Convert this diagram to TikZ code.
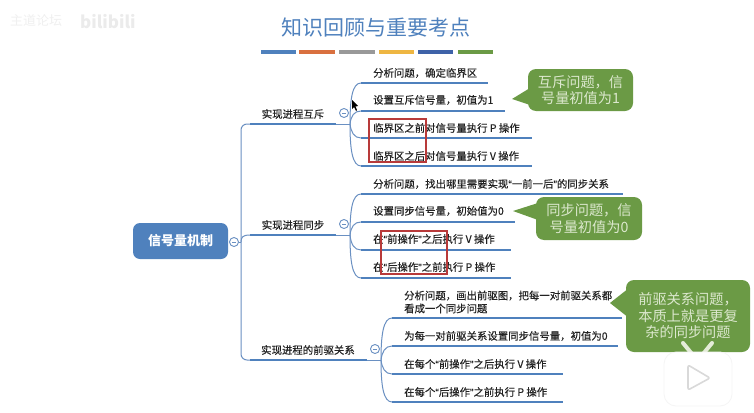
\documentclass[tikz,border=0pt]{standalone}
\usepackage{fontspec}
\setmainfont{Noto Sans CJK SC}
\newfontfamily\medf{Noto Sans CJK SC}[FakeBold=0.3]
\newfontfamily\qf{Liberation Sans}[FakeBold=0.3]
\newcommand{\lqm}{{\qf “}}
\newcommand{\rqm}{{\qf ”}}
\definecolor{mblue}{HTML}{4F81BD}
\definecolor{lblue}{HTML}{6A90C2}
\definecolor{mgreen}{HTML}{6B9A45}
\definecolor{gtext}{HTML}{DCE8CE}
\definecolor{redbox}{HTML}{B83A3A}
\definecolor{ttext}{HTML}{222222}
\definecolor{dorange}{HTML}{D9703F}
\definecolor{dgray}{HTML}{999999}
\definecolor{dyellow}{HTML}{EEB642}
\definecolor{ddblue}{HTML}{3E62A8}
\definecolor{earcol}{HTML}{E4ECD8}
\tikzset{
  conn/.style={draw=lblue,line width=1pt},
  bar/.style={draw=mblue,line width=2.8pt},
  deco/.style={line width=3.4pt},
  topic/.style={anchor=west,inner sep=0pt,font=\medf\fontsize{10.4}{13}\selectfont,text=ttext,align=left},
  mainb/.style={anchor=center,inner sep=0pt,font=\medf\fontsize{10.4}{13}\selectfont,text=ttext},
  collapse/.style={circle,draw=lblue,fill=white,line width=0.9pt,minimum size=9pt,inner sep=0pt,
    path picture={\draw[lblue,line width=0.9pt] ([xshift=-2.2pt]path picture bounding box.center) -- ([xshift=2.2pt]path picture bounding box.center);}},
  callout/.style={fill=mgreen,rounded corners=8pt,inner sep=0pt,text=gtext,align=center,font=\fontsize{14.2}{16.5}\selectfont},
  redmark/.style={draw=redbox,line width=1.1pt},
}
\begin{document}
\begin{tikzpicture}[x=1pt,y=-1pt]
\useasboundingbox (0,0) rectangle (754,412);
\fill[white] (0,0) rectangle (754,412);
% watermark
\node[anchor=west,inner sep=0pt,text=black!6,font=\fontsize{13}{15}\selectfont] (wm1) at (10,21) {主道论坛};
\node[anchor=west,inner sep=0pt,text=black!8,font=\fontsize{17}{19}\bfseries\selectfont] (wm2) at (80,22) {bilibili};
% title
\node[inner sep=0pt,text=mblue,font=\fontsize{21}{25}\selectfont] (title) at (376,28) {知识回顾与重要考点};
\coordinate (d1a) at (261,52); \coordinate (d1b) at (296,52);
\coordinate (d2a) at (299,52); \coordinate (d2b) at (335,52);
\coordinate (d3a) at (339,52); \coordinate (d3b) at (375,52);
\coordinate (d4a) at (379,52); \coordinate (d4b) at (414,52);
\coordinate (d5a) at (418,52); \coordinate (d5b) at (453,52);
\coordinate (d6a) at (458,52); \coordinate (d6b) at (493,52);
\draw[deco,draw=mblue] (d1a) -- (d1b);
\draw[deco,draw=dorange] (d2a) -- (d2b);
\draw[deco,draw=dgray] (d3a) -- (d3b);
\draw[deco,draw=dyellow] (d4a) -- (d4b);
\draw[deco,draw=ddblue] (d5a) -- (d5b);
\draw[deco,draw=mgreen] (d6a) -- (d6b);
% root
\node[fill=mblue,rounded corners=7pt,minimum width=95pt,minimum height=36pt,inner sep=0pt,text=white,font=\fontsize{13}{15}\bfseries\selectfont] (root) at (180.5,241) {信号量机制};
\node[collapse] (rootc) at (234,242) {};
% trunk
\coordinate (tk) at (241,242);
\coordinate (b1s) at (250,124); \coordinate (b1e) at (336,124);
\coordinate (b2s) at (250,235); \coordinate (b2e) at (336,235);
\coordinate (b3s) at (250,360); \coordinate (b3e) at (367,360);
\draw[conn,rounded corners=6pt] (b1s) -| (tk) |- (b3s);
\draw[conn] (rootc) -- (tk);
\draw[conn] (tk) .. controls (241,237) and (243,235) .. (b2s);
\draw[bar] (b1s) -- (b1e);
\draw[bar] (b2s) -- (b2e);
\draw[bar] (b3s) -- (b3e);
\node[mainb] (m1) at (293,114) {实现进程互斥};
\node[mainb] (m2) at (293,225) {实现进程同步};
\node[mainb] (m3) at (308,350) {实现进程的前驱关系};
% group 1
\coordinate (j1) at (350,124);
\draw[conn] (b1e) -- (j1);
\coordinate (a1) at (361,83);  \coordinate (a1e) at (488,83);
\coordinate (a2) at (361,111); \coordinate (a2e) at (505,111);
\coordinate (a3) at (361,138); \coordinate (a3e) at (532,138);
\coordinate (a4) at (361,166); \coordinate (a4e) at (532,166);
\draw[conn] (j1) .. controls (350,100) and (352,83) .. (a1);
\draw[conn] (j1) .. controls (351,116) and (354,111) .. (a2);
\draw[conn] (j1) .. controls (351,132) and (354,138) .. (a3);
\draw[conn] (j1) .. controls (350,148) and (352,166) .. (a4);
\draw[bar] (a1) -- (a1e);
\draw[bar] (a2) -- (a2e);
\draw[bar] (a3) -- (a3e);
\draw[bar] (a4) -- (a4e);
\node[topic] (ta1) at (373,73) {分析问题，确定临界区};
\node[topic] (ta2) at (373,100) {设置互斥信号量，初值为1};
\node[topic] (ta3) at (373,128) {临界区之前对信号量执行 P 操作};
\node[topic] (ta4) at (373,156) {临界区之后对信号量执行 V 操作};
\node[collapse] (c1) at (344,113) {};
% group 2
\coordinate (j2) at (350,235);
\draw[conn] (b2e) -- (j2);
\coordinate (s1) at (361,194); \coordinate (s1e) at (623,194);
\coordinate (s2) at (361,222); \coordinate (s2e) at (515,222);
\coordinate (s3) at (361,250); \coordinate (s3e) at (511,250);
\coordinate (s4) at (361,278); \coordinate (s4e) at (511,278);
\draw[conn] (j2) .. controls (350,211) and (352,194) .. (s1);
\draw[conn] (j2) .. controls (351,227) and (354,222) .. (s2);
\draw[conn] (j2) .. controls (351,244) and (354,250) .. (s3);
\draw[conn] (j2) .. controls (350,260) and (352,278) .. (s4);
\draw[bar] (s1) -- (s1e);
\draw[bar] (s2) -- (s2e);
\draw[bar] (s3) -- (s3e);
\draw[bar] (s4) -- (s4e);
\node[topic] (ts1) at (373,184) {分析问题，找出哪里需要实现\lqm 一前一后\rqm 的同步关系};
\node[topic] (ts2) at (373,211) {设置同步信号量，初始值为0};
\node[topic] (ts3) at (373,239) {在\lqm 前操作\rqm 之后执行 V 操作};
\node[topic] (ts4) at (373,267) {在\lqm 后操作\rqm 之前执行 P 操作};
\node[collapse] (c2) at (344,224) {};
% group 3
\coordinate (j3) at (381,360);
\draw[conn] (b3e) -- (j3);
\coordinate (p1) at (392,318); \coordinate (p1e) at (622,318);
\coordinate (p2) at (392,346); \coordinate (p2e) at (618,346);
\coordinate (p3) at (392,374); \coordinate (p3e) at (563,374);
\coordinate (p4) at (392,402); \coordinate (p4e) at (563,402);
\draw[conn] (j3) .. controls (381,336) and (383,318) .. (p1);
\draw[conn] (j3) .. controls (382,352) and (385,346) .. (p2);
\draw[conn] (j3) .. controls (382,368) and (385,374) .. (p3);
\draw[conn] (j3) .. controls (381,384) and (383,402) .. (p4);
\draw[bar] (p1) -- (p1e);
\draw[bar] (p2) -- (p2e);
\draw[bar] (p3) -- (p3e);
\draw[bar] (p4) -- (p4e);
\node[topic] (tp1) at (404,302) {分析问题，画出前驱图，把每一对前驱关系都\\看成一个同步问题};
\node[topic] (tp2) at (404,336) {为每一对前驱关系设置同步信号量，初值为0};
\node[topic] (tp3) at (404,364) {在每个\lqm 前操作\rqm 之后执行 V 操作};
\node[topic] (tp4) at (404,392) {在每个\lqm 后操作\rqm 之前执行 P 操作};
\node[collapse] (c3) at (375,349) {};
% red boxes
\coordinate (r1a) at (369,119); \coordinate (r1b) at (426,162);
\coordinate (r2a) at (381,231); \coordinate (r2b) at (447,274);
\draw[redmark] (r1a) rectangle (r1b);
\draw[redmark] (r2a) rectangle (r2b);
% callouts
\coordinate (tip1) at (512,99);
\coordinate (tip2) at (513,211);
\coordinate (tip3) at (610,303);
\fill[mgreen] (tip1) -- (530,88) -- (530,105) -- cycle;
\fill[mgreen] (tip2) -- (538,203) -- (538,220) -- cycle;
\fill[mgreen] (tip3) -- (629,288) -- (629,318) -- cycle;
\node[callout,minimum width=105pt,minimum height=42pt] (cb1) at (580.5,90) {互斥问题，信\\号量初值为1};
\node[callout,minimum width=106pt,minimum height=43pt] (cb2) at (589,218.5) {同步问题，信\\号量初值为0};
\node[callout,minimum width=124pt,minimum height=72pt] (cb3) at (688,316) {前驱关系问题，\\本质上就是更复\\杂的同步问题};
% cursor
\fill[black] (352,100) -- (352,109) -- (354,107) -- (356,111) -- (357,110) -- (355.5,106.5) -- (358,106) -- cycle;
% play badge
\draw[earcol,line width=4pt,line cap=round] (683,343) -- (692,354);
\draw[earcol,line width=4pt,line cap=round] (712,343) -- (703,354);
\node[fill=white,draw=black!4,line width=0.8pt,rounded corners=12pt,minimum width=68pt,minimum height=54pt,inner sep=0pt] (badge) at (698,379) {};
\draw[black!15,line width=1.6pt,line join=round,rounded corners=2pt] (688,365) -- (710,378) -- (688,390) -- cycle;
\end{tikzpicture}
\end{document}
